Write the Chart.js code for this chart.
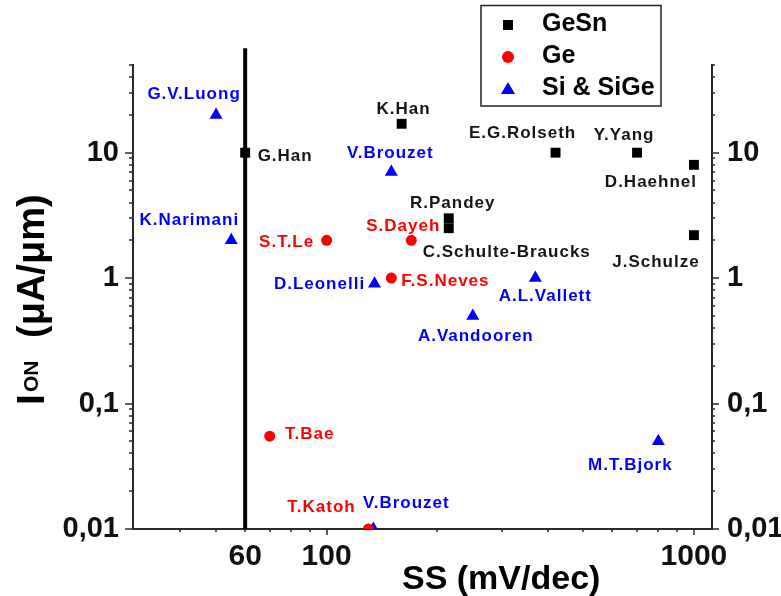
<!DOCTYPE html>
<html>
<head>
<meta charset="utf-8">
<title>ION vs SS</title>
<script src="https://cdn.jsdelivr.net/npm/chart.js@4.4.1/dist/chart.umd.min.js"></script>
<style>
  html, body { margin: 0; padding: 0; background: #fff; }
  canvas { display: block; }
</style>
</head>
<body>
<canvas id="chart" width="781" height="596"></canvas>
<script>
'use strict';

// thermionic limit at room temperature
const ssLimit = 60;

const gesnNames = ['G.Han', 'K.Han', 'R.Pandey', 'C.Schulte-Braucks', 'E.G.Rolseth', 'Y.Yang', 'D.Haehnel', 'J.Schulze'];
const gesnSS = [60, 160, 215, 215, 420, 700, 1000, 1000];
const gesnIon = [10, 17, 3, 2.5, 10, 10, 8, 2.2];

const geNames = ['S.T.Le', 'S.Dayeh', 'F.S.Neves', 'T.Bae', 'T.Katoh'];
const geSS = [100, 170, 150, 70, 130];
const geIon = [2, 2, 1, 0.055, 0.01];

const siNames = ['G.V.Luong', 'K.Narimani', 'V.Brouzet', 'D.Leonelli', 'A.L.Vallett', 'A.Vandooren', 'M.T.Bjork', 'V.Brouzet'];
const siSS = [50, 55, 150, 135, 370, 250, 800, 134];
const siIon = [20, 2, 7, 0.9, 1, 0.5, 0.05, 0.01];

const xTickValues = [60, 100, 1000];
const yTickValues = [0.01, 0.1, 1, 10];
const yTickLabels = ['0,01', '0,1', '1', '10'];

// where each name sits relative to its marker (px)
const gesnLabelShift = [[40, 4], [2, -14], [4, -15], [58, 24], [-33, -19], [-13, -17], [-43, 17], [-38, 27]];
const geLabelShift = [[-40, 2], [-8, -14], [54, 3], [40, -2], [-47, -22]];
const siLabelShift = [[-22, -21], [-42, -20], [-1, -19], [-55, 0], [10, 18], [3, 20], [-28, 24], [33, -26]];

const FONT = '"Liberation Sans", Arial, Helvetica, sans-serif';
const axisColor = '#2a2a2a';
const RED = '#ff0000';
const BLUE = '#0000ff';

const groups = [
    { name: 'GeSn', ss: gesnSS, ion: gesnIon, names: gesnNames, shift: gesnLabelShift,
      color: '#000000', text: '#151515', style: 'rect', radius: 7 },
    { name: 'Ge', ss: geSS, ion: geIon, names: geNames, shift: geLabelShift,
      color: RED, text: RED, style: 'circle', radius: 5.5 },
    { name: 'Si & SiGe', ss: siSS, ion: siIon, names: siNames, shift: siLabelShift,
      color: BLUE, text: BLUE, style: 'triangle', radius: 7.5 }
];

function toPoints(xs, ys) {
    return xs.map((v, i) => ({ x: v, y: ys[i] }));
}

function sameLog(a, b) {
    return Math.abs(Math.log10(a) - Math.log10(b)) < 1e-6;
}

function logSteps(min, max) {
    const out = [];
    for (let e = Math.floor(Math.log10(min)); e <= Math.ceil(Math.log10(max)); e++) {
        for (let m = 1; m <= 9; m++) {
            const v = m * Math.pow(10, e);
            if (v >= min * 0.999 && v <= max * 1.001) {
                out.push([v, m === 1]);
            }
        }
    }
    return out;
}

// small outward tick marks on the three drawn axes
const tickMarks = {
    id: 'tickMarks',
    afterDraw(chart) {
        const ctx = chart.ctx;
        const { x, y, y2 } = chart.scales;
        ctx.save();
        ctx.strokeStyle = axisColor;
        ctx.lineWidth = 1.5;
        ctx.beginPath();
        logSteps(x.min, x.max).forEach(([v, major]) => {
            const px = Math.round(x.getPixelForValue(v));
            if (px < x.left + 3 || px > x.right - 3) return;
            ctx.moveTo(px, x.top);
            ctx.lineTo(px, x.top + (major ? 6 : 3));
        });
        logSteps(y.min, y.max).forEach(([v, major]) => {
            const py = Math.round(y.getPixelForValue(v));
            ctx.moveTo(y.right, py);
            ctx.lineTo(y.right - (major ? 8 : 4), py);
            ctx.moveTo(y2.left, py);
            ctx.lineTo(y2.left + (major ? 7 : 3), py);
        });
        ctx.stroke();
        ctx.restore();
    }
};

// author names next to each marker
const pointNames = {
    id: 'pointNames',
    afterDatasetsDraw(chart) {
        const ctx = chart.ctx;
        const { x, y } = chart.scales;
        ctx.save();
        ctx.font = 'bold 17px ' + FONT;
        ctx.letterSpacing = '1px';
        ctx.textAlign = 'center';
        ctx.textBaseline = 'middle';
        groups.forEach(g => {
            ctx.fillStyle = g.text;
            g.names.forEach((n, i) => {
                const px = x.getPixelForValue(g.ss[i]);
                const py = y.getPixelForValue(g.ion[i]);
                ctx.fillText(n, px + g.shift[i][0], py + g.shift[i][1]);
            });
        });
        ctx.restore();
    }
};

function drawMarker(ctx, style, cx, cy) {
    ctx.beginPath();
    if (style === 'rect') {
        ctx.rect(cx - 5, cy - 5, 10, 10);
    } else if (style === 'circle') {
        ctx.arc(cx, cy, 6, 0, Math.PI * 2);
    } else {
        ctx.moveTo(cx, cy - 7);
        ctx.lineTo(cx + 7, cy + 5);
        ctx.lineTo(cx - 7, cy + 5);
        ctx.closePath();
    }
    ctx.fill();
}

const legendBox = {
    id: 'legendBox',
    afterDraw(chart) {
        const ctx = chart.ctx;
        ctx.save();
        ctx.fillStyle = '#fff';
        ctx.fillRect(481, 5, 180, 101);
        ctx.strokeStyle = '#222';
        ctx.lineWidth = 1.5;
        ctx.strokeRect(481, 5.5, 180, 100.5);
        const rows = [25, 57, 89];
        ctx.font = 'bold 25px ' + FONT;
        ctx.textAlign = 'left';
        ctx.textBaseline = 'middle';
        groups.forEach((g, i) => {
            ctx.fillStyle = g.color;
            drawMarker(ctx, g.style, 508, rows[i]);
            ctx.fillStyle = '#000';
            ctx.fillText(g.name, 542, rows[i] - 1);
        });
        ctx.restore();
    }
};

const axisTitles = {
    id: 'axisTitles',
    afterDraw(chart) {
        const ctx = chart.ctx;
        ctx.save();
        ctx.fillStyle = '#000';
        ctx.textBaseline = 'alphabetic';
        ctx.textAlign = 'left';

        ctx.font = 'bold 34px ' + FONT;
        ctx.fillText('SS (mV/dec)', 402, 589);

        ctx.translate(44, 405);
        ctx.rotate(-Math.PI / 2);
        ctx.font = 'bold 39px ' + FONT;
        ctx.fillText('I', 0, 0);
        ctx.font = 'bold 21px ' + FONT;
        ctx.fillText('ON', 13, -6);
        ctx.font = 'bold 38px ' + FONT;
        ctx.fillText('(\u03bcA/\u03bcm)', 67, 0);
        ctx.restore();
    }
};

function yTickText(value) {
    const i = yTickValues.findIndex(t => sameLog(t, value));
    return i >= 0 ? yTickLabels[i] : '';
}

function yScale(position, pad, width) {
    return {
        type: 'logarithmic',
        position: position,
        min: 0.01,
        max: 50,
        grid: { display: false, drawTicks: false },
        border: { display: true, color: axisColor, width: 2 },
        ticks: {
            autoSkip: false,
            padding: pad,
            color: '#111',
            font: { size: 29, weight: 'bold' },
            callback: yTickText
        },
        afterFit(scale) { scale.width = width; }
    };
}

function buildDatasets() {
    const sets = groups.map((g, i) => ({
        label: g.name,
        data: toPoints(g.ss, g.ion),
        pointStyle: g.style,
        pointRadius: g.radius,
        pointBackgroundColor: g.color,
        pointBorderColor: g.color,
        pointBorderWidth: 0,
        order: i
    }));
    sets.push({
        label: 'limit',
        data: [{ x: ssLimit, y: 0.01 }, { x: ssLimit, y: 68 }],
        showLine: true,
        borderColor: '#000',
        borderWidth: 4,
        pointRadius: 0,
        clip: false,
        order: 10
    });
    return sets;
}

Chart.defaults.font.family = FONT;

new Chart(document.getElementById('chart'), {
    type: 'scatter',
    data: { datasets: buildDatasets() },
    options: {
        responsive: false,
        animation: false,
        devicePixelRatio: 1,
        events: [],
        layout: { padding: { top: 65, left: 0, right: 0, bottom: 0 } },
        plugins: {
            legend: { display: false },
            tooltip: { enabled: false }
        },
        scales: {
            x: {
                type: 'logarithmic',
                min: 29.7,
                max: 1120,
                grid: { display: false, drawTicks: false },
                border: { display: true, color: axisColor, width: 2 },
                ticks: {
                    autoSkip: false,
                    maxRotation: 0,
                    padding: 10,
                    color: '#111',
                    font: { size: 30, weight: 'bold' },
                    callback: value => xTickValues.some(t => sameLog(t, value)) ? String(value) : ''
                },
                afterFit(scale) { scale.height = 67; }
            },
            y: yScale('left', 14, 133),
            y2: yScale('right', 15, 69)
        }
    },
    plugins: [tickMarks, pointNames, legendBox, axisTitles]
});
</script>
</body>
</html>
